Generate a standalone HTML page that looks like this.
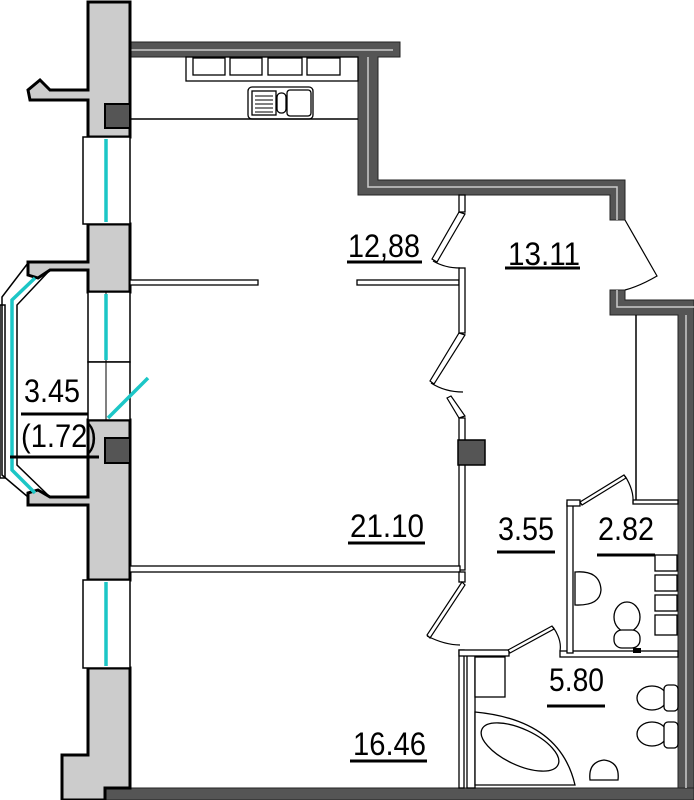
<!DOCTYPE html>
<html><head><meta charset="utf-8"><style>
html,body{margin:0;padding:0;background:#fff;}
svg{display:block;}
text{font-family:"Liberation Sans",sans-serif;fill:#000;}
</style></head><body>
<svg width="694" height="800" viewBox="0 0 694 800" xmlns="http://www.w3.org/2000/svg">
<g fill="#555" stroke="#222" stroke-width="1">
<polygon points="130,42 400,42 400,57 378,57 378,180 625,180 625,220 610,220 610,195 358,195 358,57 130,57"/>
<polygon points="610,290 625,290 625,300 694,300 694,800 678,800 678,315 610,315"/>
<rect x="105" y="788" width="589" height="12"/>
</g>
<g fill="none" stroke="#ccc" stroke-width="1.5">
<polyline points="130,50 393,50"/>
<polyline points="368,57 368,187 617,187 617,220"/>
<polyline points="617,290 617,307 694,307"/>
<polyline points="686,315 686,788"/>
</g>
<g fill="#ccc" stroke="#000" stroke-width="3">
<polygon points="88,2 130,2 130,137 88,137 88,100 30,100 28,90 40,80 50,90 88,90"/>
<polygon points="88,224 130,224 130,292 88,292 88,270 50,270 38,278 28,275 28,262 88,262"/>
<polygon points="88,420 130,420 130,580 88,580 88,505 28,505 28,493 38,490 50,497 88,497"/>
<polygon points="88,668 130,668 130,788 105,788 105,800 62,800 62,755 88,755"/>
</g>
<rect x="105" y="104" width="25" height="24" fill="#555" stroke="#000" stroke-width="2"/>
<rect x="105" y="438" width="25" height="25" fill="#555" stroke="#000" stroke-width="2"/>
<g fill="#fff" stroke="#000" stroke-width="1.5">
<rect x="83" y="137" width="47" height="87"/>
<rect x="88" y="292" width="42" height="70"/>
<rect x="88" y="362" width="42" height="58"/>
<rect x="83" y="580" width="47" height="88"/>
</g>
<line x1="106" y1="292" x2="106" y2="420" stroke="#000" stroke-width="1"/>
<g stroke="#1cc6c6" stroke-width="3.5" fill="none">
<line x1="106" y1="139" x2="106" y2="222"/>
<line x1="106" y1="294" x2="106" y2="360"/>
<line x1="108" y1="418" x2="148" y2="378"/>
<line x1="106" y1="582" x2="106" y2="666"/>
<polyline points="35,278 12,300 12,470 35,493"/>
</g>
<g fill="none" stroke="#000" stroke-width="1.5">
<polyline points="28,263 2,297 2,475 28,497"/>
<polyline points="50,270 17,305 17,465 50,497"/>
<rect x="0" y="305" width="5" height="173"/>
</g>
<g fill="#fff" stroke="#000" stroke-width="1.3">
<rect x="186" y="57" width="172" height="24"/>
<rect x="193" y="58" width="32" height="17"/>
<rect x="230" y="58" width="32" height="17"/>
<rect x="268" y="58" width="34" height="17"/>
<rect x="307" y="58" width="33" height="17"/>
<rect x="248" y="87" width="65" height="32" rx="4"/>
<rect x="252" y="91" width="24" height="24"/>
<rect x="277" y="93" width="9" height="20" rx="4"/>
<rect x="287" y="90" width="24" height="26" rx="3"/>
</g>
<g stroke="#000" stroke-width="1"><line x1="255" y1="96" x2="273" y2="96"/><line x1="255" y1="100" x2="273" y2="100"/><line x1="255" y1="104" x2="273" y2="104"/><line x1="255" y1="108" x2="273" y2="108"/><line x1="255" y1="112" x2="273" y2="112"/></g>
<line x1="130" y1="119" x2="358" y2="119" stroke="#000" stroke-width="1.5"/>
<g fill="#fff" stroke="#000" stroke-width="1.3">
<rect x="130" y="280" width="128" height="5"/>
<rect x="357" y="280" width="102" height="5"/>
<rect x="459" y="195" width="6" height="17"/>
<rect x="459" y="268" width="6" height="65"/>
<rect x="459" y="418" width="6" height="152"/>
<rect x="130" y="566" width="330" height="6"/>
<rect x="459" y="572" width="6" height="10"/>
<rect x="459" y="650" width="5" height="138"/>
<rect x="467" y="655" width="8" height="133"/>
<rect x="459" y="650" width="50" height="6"/>
<rect x="560" y="651" width="118" height="6"/>
<rect x="567" y="503" width="6" height="150"/>
<rect x="567" y="500" width="13" height="6"/>
<rect x="633" y="500" width="45" height="4"/>
</g>
<line x1="636" y1="315" x2="636" y2="500" stroke="#000" stroke-width="1.5"/>
<rect x="458" y="440" width="27" height="25" fill="#555" stroke="#000" stroke-width="1.5"/>
<g stroke="#000" stroke-width="1.2" fill="none">
<polygon points="459,212 465,214 437,262 432,259" fill="#fff"/>
<path d="M433,261 Q445,268 460,268"/>
<polygon points="459,333 465,335 434,384 430,381" fill="#fff"/>
<path d="M431,383 Q445,392 463,392"/>
<polygon points="447,398 451,396 465,416 459,418" fill="#fff"/>
<path d="M625,220 L657,276 Q640,286 625,290"/>
<polygon points="462,582 465,585 430,638 427,635" fill="#fff"/>
<path d="M427,636 Q445,645 460,645"/>
<polygon points="508,650 552,626 554,629 510,653" fill="#fff"/>
<path d="M553,627 Q562,640 560,651"/>
<polygon points="580,502 624,475 626,478 582,505" fill="#fff"/>
<path d="M625,476 Q634,490 633,503"/>
</g>
<g fill="#fff" stroke="#000" stroke-width="1.3">
<rect x="655" y="555" width="22" height="16"/>
<rect x="655" y="575" width="22" height="16"/>
<rect x="655" y="595" width="22" height="16"/>
<rect x="655" y="615" width="22" height="20"/>
<path d="M575,572 Q600,570 601,590 Q600,606 575,605 Z"/>
<ellipse cx="627" cy="617" rx="13" ry="15"/>
<rect x="614" y="630" width="26" height="18" rx="8"/>
<rect x="475" y="657" width="30" height="40"/>
<path d="M475,712 Q560,720 575,785 L475,785 Z"/>
<ellipse cx="520" cy="747" rx="42" ry="18" transform="rotate(25 520 747)"/>
<ellipse cx="652" cy="698" rx="15" ry="12"/>
<rect x="664" y="685" width="14" height="26" rx="4"/>
<ellipse cx="652" cy="734" rx="15" ry="12"/>
<rect x="664" y="722" width="14" height="26" rx="4"/>
<path d="M590,780 Q588,762 604,760 Q620,762 618,780 Z"/>
</g>
<rect x="633" y="648" width="8" height="5" fill="#000"/>
<g font-size="32">
<text x="348" y="257" textLength="72" lengthAdjust="spacingAndGlyphs">12,88</text>
<text x="508" y="265" textLength="72" lengthAdjust="spacingAndGlyphs">13.11</text>
<text x="350" y="537" textLength="74" lengthAdjust="spacingAndGlyphs">21.10</text>
<text x="498" y="540" textLength="56" lengthAdjust="spacingAndGlyphs">3.55</text>
<text x="598" y="540" textLength="56" lengthAdjust="spacingAndGlyphs">2.82</text>
<text x="549" y="691" textLength="55" lengthAdjust="spacingAndGlyphs">5.80</text>
<text x="353" y="755" textLength="73" lengthAdjust="spacingAndGlyphs">16.46</text>
<text x="24" y="402" textLength="56" lengthAdjust="spacingAndGlyphs">3.45</text>
<text x="21" y="447" textLength="76" lengthAdjust="spacingAndGlyphs">(1.72)</text>
</g>
<g stroke="#000" stroke-width="3">
<line x1="347" y1="262" x2="422" y2="262"/>
<line x1="505" y1="268" x2="580" y2="268"/>
<line x1="348" y1="543" x2="425" y2="543"/>
<line x1="497" y1="552" x2="555" y2="552"/>
<line x1="597" y1="555" x2="655" y2="555"/>
<line x1="547" y1="706" x2="605" y2="706"/>
<line x1="350" y1="761" x2="427" y2="761"/>
<line x1="21" y1="414" x2="88" y2="414"/>
<line x1="10" y1="457" x2="99" y2="457"/>
</g>
</svg>
</body></html>
